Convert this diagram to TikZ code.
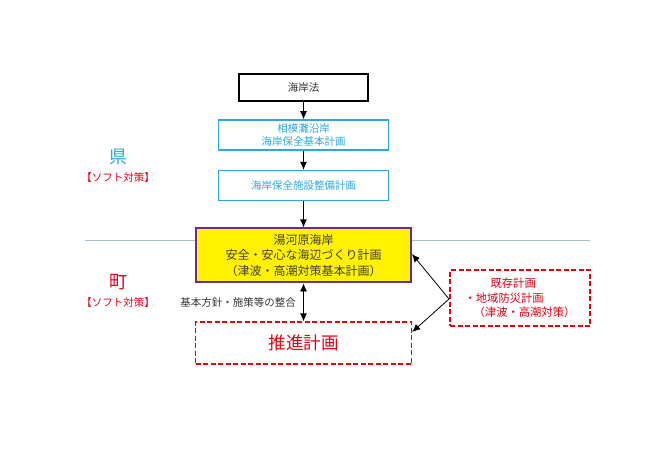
\documentclass[tikz,border=0pt]{standalone}
\usepackage{fontspec}
\setmainfont{Noto Sans CJK JP}
\usetikzlibrary{positioning,arrows.meta}
\definecolor{kencyan}{HTML}{2EA7E0}
\definecolor{chored}{HTML}{E60012}
\definecolor{waku}{HTML}{662D91}
\definecolor{kiiro}{HTML}{FFF100}
\definecolor{sen}{HTML}{A9BCD0}

\begin{document}
\begin{tikzpicture}[
  x=1pt, y=-1pt,
  node distance=19pt,
  lawbox/.style={draw, line width=2.4pt, minimum width=129pt, minimum height=27pt,
              inner sep=0pt, align=center, font=\fontsize{10.5}{12}\selectfont, text=black!80},
  kenbox/.style={draw=kencyan, line width=1.6pt, minimum width=170pt, minimum height=30pt,
              inner sep=0pt, align=center, font=\fontsize{10.5}{13}\selectfont, text=kencyan},
  mainbox/.style={draw=waku, fill=kiiro, line width=2pt, minimum width=215pt, minimum height=54pt,
               inner sep=0pt, align=center, font=\fontsize{12}{15.5}\selectfont, text=black!75},
  dashbox/.style={draw=chored, dash pattern=on 5pt off 2.5pt, line width=1.4pt,
                  inner sep=0pt, align=center, text=chored},
  lvl/.style={font=\fontsize{18}{20}\selectfont},
  soft/.style={font=\fontsize{10.5}{12}\selectfont, text=chored},
  arr/.style={-{Latex[length=8pt,width=7pt]}, line width=0.8pt},
  dbl/.style={{Latex[length=8pt,width=7pt]}-{Latex[length=8pt,width=7pt]}, line width=0.8pt}
]
\useasboundingbox (0,0) rectangle (650,459);

% ===== divider between prefecture and town =====
\coordinate (ll) at (85,240);
\coordinate (lr) at (590,240);
\draw[sen, line width=0.8pt] (ll) -- (lr);

% ===== prefecture column =====
\node[lawbox] (kaigan) at (303.5,87.5) {海岸法};
\node[kenbox, below=17pt of kaigan] (sagami) {相模灘沿岸\\海岸保全基本計画};
\node[kenbox, below=of sagami]      (seibi)  {海岸保全施設整備計画};
\node[mainbox, below=26pt of seibi] (yugawara) {湯河原海岸\\安全・安心な海辺づくり計画\\（津波・高潮対策基本計画）};
\node[dashbox, draw=chored, minimum width=216pt, minimum height=42pt,
      font=\fontsize{17.5}{20}\selectfont, below=38pt of yugawara] (suishin) {推進計画};
\node[dashbox, minimum width=140pt, minimum height=56pt, font=\fontsize{11.3}{14.5}\selectfont,
      align=left] (kizon) at (520,298)
      {\hspace*{2.3em}既存計画\\・地域防災計画\\\hspace*{0.8em}（津波・高潮対策）};
\coordinate (split) at (449,299);

\node[lvl, text=kencyan] (ken) at (118,157) {県};
\node[soft, below=1pt of ken] (kensoft) {【ソフト対策】};
\node[lvl, text=chored] (cho) at (118,282) {町};
\node[soft, below=1pt of cho] (chosoft) {【ソフト対策】};

\draw[arr] (kaigan) -- (sagami);
\draw[arr] (sagami) -- (seibi);
\draw[arr] (seibi) -- (yugawara);
\draw[dbl] (yugawara) -- node[left=4pt, font=\fontsize{10.5}{12}\selectfont, text=black!80] (seigo) {基本方針・施策等の整合} (suishin);

% ===== links from existing plans =====
\draw[arr] (split) -- (yugawara.east |- 0,254);
\draw[arr] (split) -- (suishin.east |- 0,332);

\end{tikzpicture}
\end{document}
